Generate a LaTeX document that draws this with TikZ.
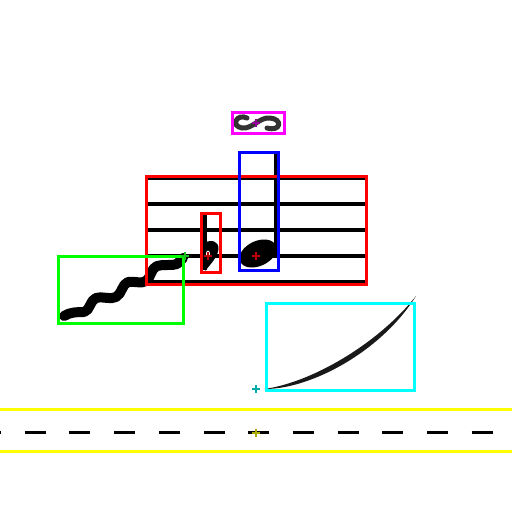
\documentclass[tikz,border=0pt]{standalone}
\usetikzlibrary{calc}
\definecolor{bred}{RGB}{255,0,0}
\definecolor{bblue}{RGB}{0,0,255}
\definecolor{bgreen}{RGB}{0,255,0}
\definecolor{bcyan}{RGB}{0,255,255}
\definecolor{bmag}{RGB}{255,0,255}
\definecolor{byel}{RGB}{255,255,0}
\definecolor{mred}{RGB}{190,0,0}
\definecolor{mpur}{RGB}{150,0,150}
\definecolor{mgreen}{RGB}{30,190,30}
\definecolor{mcyan}{RGB}{0,170,170}
\definecolor{myel}{RGB}{170,170,0}
\tikzset{
  bbox/.style={line width=3pt},
  staffline/.style={line width=3.5pt, black},
  mk/.style={line width=2.6pt},
}
\newcommand{\markat}[2]{\draw[mk,#2] ($(#1)+(-4,0)$) -- ($(#1)+(4,0)$) ($(#1)+(0,-4)$) -- ($(#1)+(0,4)$);}
\begin{document}
\begin{tikzpicture}[x=1pt,y=-1pt]
\useasboundingbox[fill=white] (0,0) rectangle (512,512);
\clip (0,0) rectangle (512,512);
% staff
\foreach \yy in {178,204,230,256,282}{\draw[staffline] (146,\yy) -- (366,\yy);}
% quarter note
\draw[line width=3.5pt] (275.5,152) -- (275.5,256);
\fill[black] (258,253.5) ellipse [x radius=19.5, y radius=12.5, rotate=25];
% eighth-like note
\draw[line width=3.5pt] (205,213) -- (205,270);
\fill[black] (204,243) .. controls (211,239) and (219,241) .. (218.5,249) .. controls (218,256) and (211,264) .. (205,271) -- cycle;
\fill[white] (208,254) ellipse [x radius=2, y radius=3.5];
% turn
\draw[line width=5pt, black!80, line cap=round] (247,118) .. controls (237,113) and (230,126) .. (242,128) .. controls (253,129) and (259,117) .. (270,118) .. controls (283,119) and (281,132) .. (267,128);
% trill
\draw[line width=10pt, black, line cap=round, line join=round]
  (64,316) .. controls (70,312) and (78,312) .. (84,312)
  .. controls (90,311) and (90,300) .. (96,298)
  .. controls (104,296) and (110,300) .. (116,297)
  .. controls (122,294) and (122,284) .. (128,282)
  .. controls (134,281) and (142,284) .. (146,281)
  .. controls (151,278) and (151,268) .. (157,266)
  .. controls (163,264) and (172,266) .. (177,264)
  .. controls (180,262) and (181,259) .. (183,258);
% slur
\fill[black!90] (264,389) .. controls (310,383) and (377,345) .. (416,296)
  .. controls (381,352) and (310,389.5) .. (264,389) -- cycle;
% dashed line
\draw[line width=3pt, dash pattern=on 21pt off 23.7pt, dash phase=20pt] (0,432) -- (512,432);
% boxes
\draw[bbox,bred] (146,176) rectangle (366,284);
\draw[bbox,bred] (201.5,213.5) rectangle (220.5,272);
\draw[bbox,bblue] (239.5,152) rectangle (278,270);
\draw[bbox,bmag] (232,112.5) rectangle (284.5,133.5);
\draw[bbox,bgreen] (58,256.5) rectangle (183.5,323);
\draw[bbox,bcyan] (266,303.5) rectangle (414.5,390);
\draw[bbox,byel] (0,409.5) -- (512,409.5);
\draw[bbox,byel] (0,451) -- (512,451);
% markers
\coordinate (m1) at (208,256);
\coordinate (m2) at (256,256);
\coordinate (m3) at (256,123);
\coordinate (m4) at (185,256);
\coordinate (m5) at (256,389);
\coordinate (m6) at (256,433);
\markat{m1}{mred}
\markat{m2}{mred}
\markat{m3}{mpur}
\markat{m4}{mgreen}
\markat{m5}{mcyan}
\markat{m6}{myel}
\end{tikzpicture}
\end{document}
